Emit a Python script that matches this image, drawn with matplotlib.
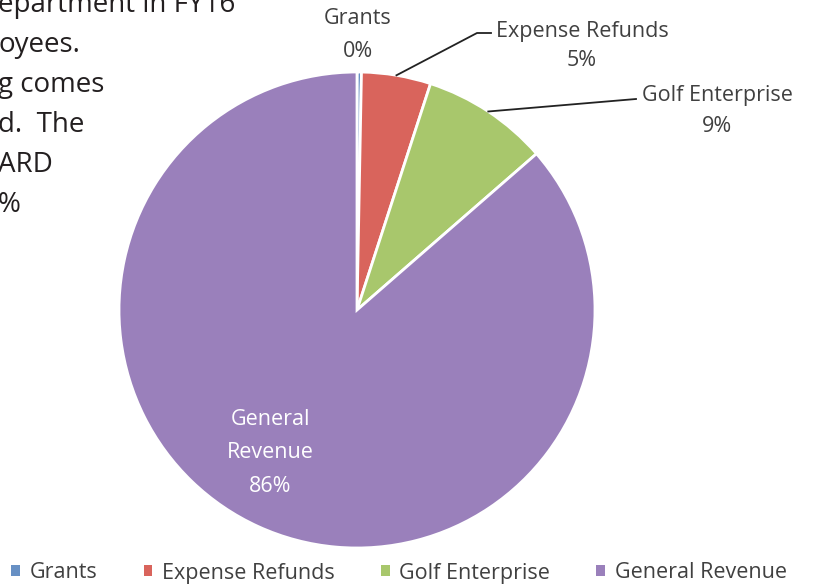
import numpy as np
import matplotlib.pyplot as plt
from matplotlib.patches import Patch

# Data
categories = ['Grants', 'Expense Refunds', 'Golf Enterprise', 'General Revenue']
shares = [0.3, 4.7, 8.6, 86.4]
colors = ['#6790c4', '#d9645c', '#a8c76c', '#9a80bb']

# Body text fragments left of the chart (cut off in the source page)
body_lines = ['epartment in FY16', 'oyees.', 'g comes', 'd.  The', 'ARD', '%']

W, H = 815, 586
fig = plt.figure(figsize=(W / 100, H / 100), dpi=100)
ax = fig.add_axes([0, 0, 1, 1])

def py(y):
    # pixel row -> data y
    return H - y

cx, cy, R = 357, py(310), 238
wedges, _ = ax.pie(shares, colors=colors, startangle=90, counterclock=False,
                   center=(cx, cy), radius=R, frame=True,
                   wedgeprops=dict(edgecolor='white', linewidth=2))
ax.set_xlim(0, W)
ax.set_ylim(0, H)
ax.set_aspect('equal')
ax.axis('off')

label_font = dict(family='Open Sans', fontsize=15.5, color='#404040')

def pct(v):
    return '%.0f%%' % v

def mid_point(w, r=R):
    a = np.deg2rad((w.theta1 + w.theta2) / 2)
    return cx + r * np.cos(a), cy + r * np.sin(a)

# Grants: no leader line
ax.text(358, py(35), categories[0] + '\n' + pct(shares[0]), ha='center', va='center',
        linespacing=1.7, **label_font)

# Expense Refunds with leader line
x0, y0 = mid_point(wedges[1])
ax.plot([x0, 477, 491], [y0, py(33), py(33)], color='#222222', lw=1.3)
ax.text(582, py(46), categories[1] + '\n' + pct(shares[1]), ha='center', va='center',
        linespacing=1.5, **label_font)

# Golf Enterprise with leader line
x0, y0 = mid_point(wedges[2])
ax.plot([x0, 636], [y0, py(99)], color='#222222', lw=1.3)
ax.text(717, py(111), categories[2] + '\n' + pct(shares[2]), ha='center', va='center',
        linespacing=1.65, **label_font)

# General Revenue inside
ax.text(270, py(453), 'General\nRevenue\n' + pct(shares[3]), ha='center', va='center',
        linespacing=1.8, family='Open Sans', fontsize=15.5, color='white')

# body text
for i, line in enumerate(body_lines):
    ax.text(-2, py(12 + 40 * i), line, ha='left', va='baseline',
            family='Open Sans', fontsize=20, color='#231f20')

handles = [Patch(facecolor=c, edgecolor='none') for c in colors]
fig.legend(handles, categories, loc='center', bbox_to_anchor=(399 / W, 1 - 573 / H),
           ncol=4, frameon=False, handlelength=0.4, handleheight=0.4,
           handletextpad=0.45, columnspacing=2.15,
           prop=dict(family='Open Sans', size=15.5), labelcolor='#404040')

fig.savefig('out.png', dpi=100)
